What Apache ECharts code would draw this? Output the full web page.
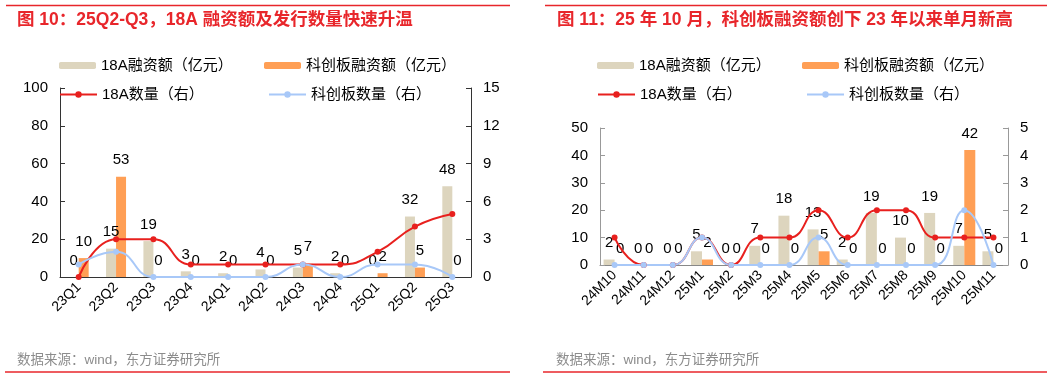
<!DOCTYPE html>
<html><head><meta charset="utf-8">
<script src="https://cdn.jsdelivr.net/npm/echarts@6/dist/echarts.min.js"></script>
<style>html,body{margin:0;padding:0;background:#fff}#c{width:1061px;height:378px}</style>
</head><body><div id="c"></div>
<script>
// ---- Chart 1 (quarterly) ----
const quarters = ['23Q1','23Q2','23Q3','23Q4','24Q1','24Q2','24Q3','24Q4','25Q1','25Q2','25Q3'];
const q18aAmount = [0,15,19,3,2,4,5,2,0,32,48];
const qStarAmount = [10,53,0,0,0,0,7,0,2,5,0];
const q18aCount = [0,3,3,1,1,1,1,1,2,4,5];
const qStarCount = [1,2,0,0,0,0,1,0,1,1,0];
// ---- Chart 2 (monthly) ----
const months = ['24M10','24M11','24M12','25M1','25M2','25M3','25M4','25M5','25M6','25M7','25M8','25M9','25M10','25M11'];
const m18aAmount = [2,0,0,5,0,7,18,13,2,19,10,19,7,5];
const mStarAmount = [0,0,0,2,0,0,0,5,0,0,0,0,42,0];
const m18aCount = [1,0,0,1,0,1,1,2,1,2,2,1,1,1];
const mStarCount = [0,0,0,1,0,0,0,1,0,0,0,0,2,0];

const title1 = '图 10：25Q2-Q3，18A 融资额及发行数量快速升温';
const title2 = '图 11：25 年 10 月，科创板融资额创下 23 年以来单月新高';
const source = '数据来源：wind，东方证券研究所';
const N_A = '18A融资额（亿元）', N_S = '科创板融资额（亿元）', N_AC = '18A数量（右）', N_SC = '科创板数量（右）';

const FONT = '"Liberation Sans", Arial, "Noto Sans CJK SC", sans-serif';
const C_BEIGE = '#DDD5BE', C_ORANGE = '#FF9F55', C_RED = '#E8201E', C_BLUE = '#A8C8F8', C_TITLE = '#E8262B';

function legend(left, top, name, color, isBar) {
  return {
    left, top, data: [name], selectedMode: false, padding: 0,
    itemWidth: 37, itemHeight: isBar ? 7 : 8,
    itemStyle: { color, borderWidth: 0 },
    lineStyle: isBar ? undefined : { color, width: 2 },
    textStyle: { fontSize: 15, color: '#000', fontFamily: FONT }
  };
}
function barLabel() {
  return { show: true, position: 'top', distance: 9, fontSize: 15, color: '#000', fontFamily: FONT };
}
function xAxis(gi, data, color) {
  return {
    type: 'category', gridIndex: gi, data,
    axisLine: { lineStyle: { color, width: 1 } },
    axisTick: { inside: true, length: 5, lineStyle: { color } },
    axisLabel: { rotate: 45, fontSize: 14, color: '#000', fontFamily: FONT, margin: 8, interval: 0 },
    splitLine: { show: false }
  };
}
function yAxis(gi, max, interval, pos, color) {
  return {
    type: 'value', gridIndex: gi, min: 0, max, interval, position: pos,
    axisLine: { show: true, lineStyle: { color } },
    axisTick: { show: true, inside: true, length: 5, lineStyle: { color } },
    axisLabel: { fontSize: 15, color: '#000', fontFamily: FONT, margin: 12 },
    splitLine: { show: false }
  };
}
function lineSeries(name, xi, yi, data, color) {
  return {
    name, type: 'line', xAxisIndex: xi, yAxisIndex: yi, data, smooth: true,
    symbol: 'circle', symbolSize: 6, z: 5,
    lineStyle: { color, width: 2 }, itemStyle: { color }
  };
}
function barSeries(name, xi, yi, data, color, w) {
  return {
    name, type: 'bar', xAxisIndex: xi, yAxisIndex: yi, data, barWidth: w, barGap: '0%',
    itemStyle: { color }, label: barLabel(), z: 2
  };
}

const chart = echarts.init(document.getElementById('c'), null, { renderer: 'canvas' });
chart.setOption({
  animation: false,
  backgroundColor: '#fff',
  textStyle: { fontFamily: FONT },
  grid: [
    { left: 60, top: 88, width: 411, height: 189 },
    { left: 600, top: 128, width: 408, height: 137 }
  ],
  legend: [
    legend(59, 58, N_A, C_BEIGE, true), legend(264, 58, N_S, C_ORANGE, true),
    legend(59, 87, N_AC, C_RED, false), legend(268, 87, N_SC, C_BLUE, false),
    legend(597, 58, N_A, C_BEIGE, true), legend(802, 58, N_S, C_ORANGE, true),
    legend(597, 87, N_AC, C_RED, false), legend(806, 87, N_SC, C_BLUE, false)
  ],
  xAxis: [xAxis(0, quarters, '#333'), xAxis(1, months, '#888')],
  yAxis: [
    yAxis(0, 100, 20, 'left', '#333'), yAxis(0, 15, 3, 'right', '#333'),
    yAxis(1, 50, 10, 'left', '#999'), yAxis(1, 5, 1, 'right', '#999')
  ],
  series: [
    barSeries(N_A, 0, 0, q18aAmount, C_BEIGE, 10),
    barSeries(N_S, 0, 0, qStarAmount, C_ORANGE, 10),
    lineSeries(N_AC, 0, 1, q18aCount, C_RED),
    lineSeries(N_SC, 0, 1, qStarCount, C_BLUE),
    barSeries(N_A, 1, 2, m18aAmount, C_BEIGE, 11),
    barSeries(N_S, 1, 2, mStarAmount, C_ORANGE, 11),
    lineSeries(N_AC, 1, 3, m18aCount, C_RED),
    lineSeries(N_SC, 1, 3, mStarCount, C_BLUE)
  ],
  graphic: [
    { type: 'line', shape: { x1: 6, y1: 5.5, x2: 510, y2: 5.5 }, style: { stroke: C_TITLE, lineWidth: 1.5 } },
    { type: 'line', shape: { x1: 545, y1: 5.5, x2: 1047, y2: 5.5 }, style: { stroke: C_TITLE, lineWidth: 1.5 } },
    { type: 'text', left: 17, top: 11, style: { text: title1, fill: C_TITLE, font: 'bold 17.5px ' + FONT } },
    { type: 'text', left: 557, top: 11, style: { text: title2, fill: C_TITLE, font: 'bold 17.5px ' + FONT } },
    { type: 'text', left: 17, top: 354, style: { text: source, fill: '#8C8C8C', font: '13.5px ' + FONT } },
    { type: 'text', left: 556, top: 354, style: { text: source, fill: '#8C8C8C', font: '13.5px ' + FONT } },
    { type: 'line', shape: { x1: 5, y1: 372, x2: 510, y2: 372 }, style: { stroke: C_TITLE, lineWidth: 1.5 } },
    { type: 'line', shape: { x1: 543, y1: 372, x2: 1047, y2: 372 }, style: { stroke: C_TITLE, lineWidth: 1.5 } }
  ]
});
</script></body></html>
